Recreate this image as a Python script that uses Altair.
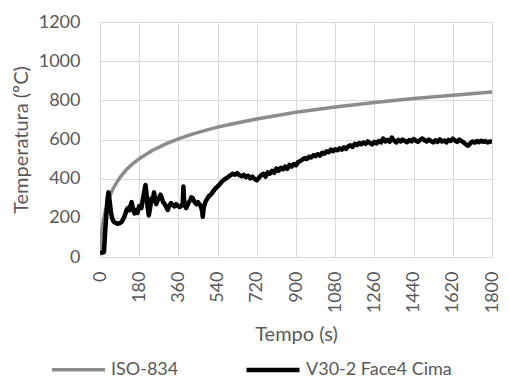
import altair as alt
import pandas as pd

# ISO-834 standard fire curve
iso_t = [0, 5, 10, 15, 20, 30, 45, 60, 90, 120, 150, 180, 240, 300, 360, 420, 480, 540,
         600, 720, 900, 1080, 1260, 1440, 1620, 1800]
iso_T = [20, 97, 147, 185, 213, 261, 312, 349, 404, 445, 476, 502, 544, 576, 603, 626, 645, 663,
         678, 705, 739, 766, 789, 809, 826, 842]

v_t = [0, 10, 18, 20, 25, 30, 35, 39, 44, 50, 55, 62, 70, 80, 90, 100, 107, 115, 122, 128,
       135, 140, 145, 150, 158, 165, 172, 180, 190, 198, 205, 209, 213, 218, 224, 230, 236, 242,
       248, 252, 258, 265, 272, 278, 284, 290, 297, 304, 311, 318, 326, 334, 342, 350, 358, 366,
       374, 380, 383, 386, 390, 396, 402, 408, 414, 420, 426, 432, 438, 444, 450, 456, 462, 468,
       472, 476, 482, 488, 494, 500, 510, 520, 530, 540, 550, 560, 570, 580, 590, 600, 610, 620,
       630, 640, 650, 660, 670, 680, 690, 700, 710, 720, 730, 740, 750, 760, 770, 780, 790, 800,
       810, 820, 830, 840, 850, 860, 870, 880, 890, 900, 910, 920, 930, 940, 950, 960, 970, 980,
       990, 1000, 1010, 1020, 1030, 1040, 1050, 1060, 1070, 1080, 1090, 1100, 1110, 1120, 1130,
       1140, 1150, 1160, 1170, 1180, 1190, 1200, 1210, 1220, 1230, 1240, 1250, 1260, 1270, 1280,
       1290, 1300, 1310, 1320, 1330, 1340, 1350, 1360, 1370, 1380, 1390, 1400, 1410, 1420, 1430,
       1440, 1450, 1460, 1470, 1480, 1490, 1500, 1510, 1520, 1530, 1540, 1550, 1560, 1570, 1580,
       1590, 1600, 1610, 1620, 1630, 1640, 1650, 1660, 1670, 1680, 1690, 1700, 1710, 1720, 1730,
       1740, 1750, 1760, 1770, 1780, 1790, 1800]
v_T = [20, 22, 25, 60, 150, 230, 300, 330, 290, 230, 200, 182, 175, 170, 172, 180, 195, 215, 240, 250,
       238, 262, 280, 255, 222, 240, 225, 260, 250, 300, 345, 368, 330, 260, 212, 250, 300, 285,
       330, 300, 270, 290, 305, 318, 300, 280, 270, 255, 240, 262, 275, 265, 258, 270, 260, 255,
       262, 275, 360, 290, 262, 250, 265, 280, 290, 305, 300, 285, 275, 270, 280, 270, 262, 240,
       205, 250, 275, 290, 300, 310, 320, 335, 350, 360, 372, 385, 395, 402, 410, 418, 425, 420,
       428, 418, 412, 420, 408, 415, 402, 410, 398, 392, 405, 418, 425, 410, 432, 425, 440, 430,
       452, 440, 455, 448, 462, 450, 470, 462, 475, 468, 485, 490, 498, 505, 500, 512, 508, 520,
       515, 525, 518, 532, 528, 540, 535, 548, 540, 550, 545, 555, 548, 560, 552,
       565, 570, 562, 578, 572, 582, 575, 585, 578, 590, 582, 575, 588, 580, 592,
       585, 605, 590, 598, 588, 610, 595, 585, 598, 590, 600, 592, 586, 597, 590,
       602, 594, 588, 598, 605, 596, 590, 600, 592, 585, 596, 588, 600, 590, 595,
       585, 598, 592, 604, 595, 588, 600, 592, 585, 575, 568, 580, 590, 584, 592,
       586, 594, 588, 592, 585, 590, 588]

series_names = ["ISO-834", "V30-2 Face4 Cima"]
series_colors = ["#8c8c8c", "#000000"]
x_ticks = [0, 180, 360, 540, 720, 900, 1080, 1260, 1440, 1620, 1800]
y_ticks = [0, 200, 400, 600, 800, 1000, 1200]

df = pd.concat([
    pd.DataFrame({"t": iso_t, "T": iso_T, "s": series_names[0], "o": 0}),
    pd.DataFrame({"t": v_t, "T": v_T, "s": series_names[1], "o": 1}),
])

FONT = "Lato"
TXT = "#595959"
FS_LABEL = 18
FS_TITLE = 20

chart = alt.Chart(df).mark_line(strokeJoin="round", clip=True).encode(
    x=alt.X("t:Q", scale=alt.Scale(domain=[0, 1800], nice=False),
            axis=alt.Axis(values=x_ticks, format="d", title="Tempo (s)", labelAngle=-90,
                          labelPadding=14, titlePadding=12)),
    y=alt.Y("T:Q", scale=alt.Scale(domain=[0, 1200], nice=False),
            axis=alt.Axis(values=y_ticks, format="d", title="Temperatura (ºC)",
                          labelPadding=20, titlePadding=7)),
    color=alt.Color("s:N", scale=alt.Scale(domain=series_names, range=series_colors),
                    legend=alt.Legend(title=None, orient="none", direction="horizontal",
                                      legendX=-50, legendY=319, symbolType="stroke",
                                      symbolSize=2809, symbolStrokeWidth=3.5,
                                      labelOffset=4, columnPadding=58)),
    strokeWidth=alt.StrokeWidth("s:N", scale=alt.Scale(domain=series_names, range=[3.5, 4.5]),
                                legend=None),
    order="o:Q",
    detail="s:N",
).properties(
    width=392, height=235,
    padding={"left": 92, "top": 14, "right": 9, "bottom": 123},
    autosize=alt.AutoSizeParams(type="none"),
).configure_view(stroke=None).configure_axis(
    grid=True, gridColor="#d9d9d9", gridWidth=1, domain=False, ticks=False,
    labelFont=FONT, labelFontSize=FS_LABEL, labelColor=TXT,
    titleFont=FONT, titleFontSize=FS_TITLE, titleColor=TXT, titleFontWeight="normal",
).configure_legend(
    labelFont=FONT, labelFontSize=FS_LABEL, labelColor=TXT,
)

chart.save("out.html", embed_options={"renderer": "svg", "actions": False})
